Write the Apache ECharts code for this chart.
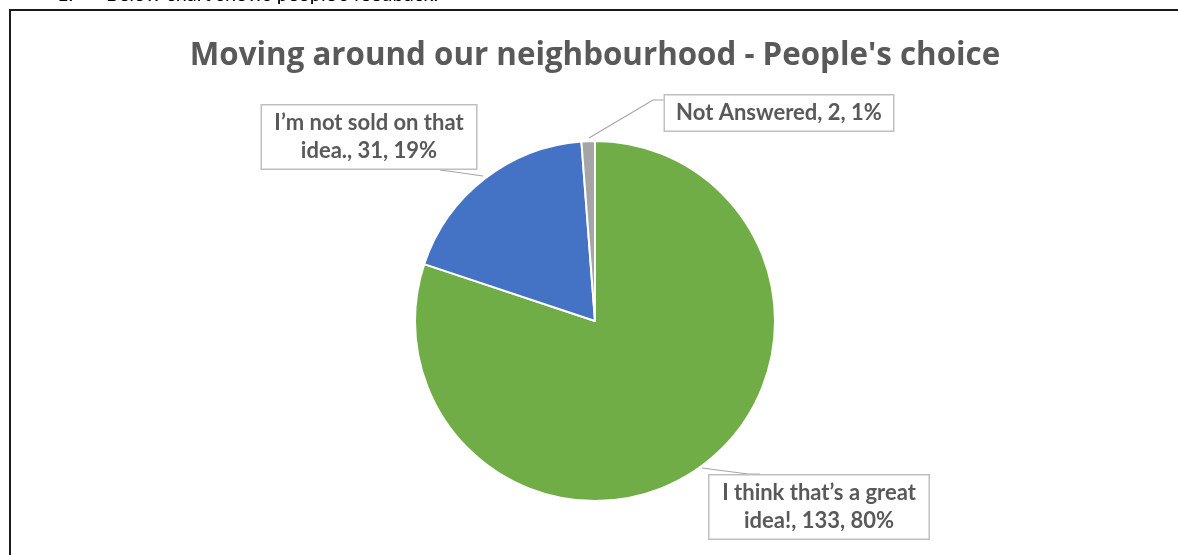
<!DOCTYPE html>
<html>
<head>
<meta charset="utf-8">
<script src="https://cdn.jsdelivr.net/npm/echarts@6/dist/echarts.min.js"></script>
<style>
  html, body { margin: 0; padding: 0; background: #ffffff; }
  #chart { width: 1178px; height: 555px; }
</style>
</head>
<body>
<div id="chart"></div>
<script>
// Survey answers, in clockwise order from 12 o'clock
const categories = [
  'I think that\u2019s a great idea!',
  'I\u2019m not sold on that idea.',
  'Not Answered'
];
const responses = [133, 31, 2];
const sliceColors = ['#70AD47', '#4472C4', '#A5A5A5'];

const chartTitle = 'Moving around our neighbourhood - People\u0027s choice';
const headingNumber = '1.';
const headingText = 'Below chart shows people\u2019s feedback.';

// Callout placement per slice: box centre, text width, leader line
const calloutCentres = [[819, 507], [369, 137], [779, 113]];
const calloutWidths = [203, 198, 212];
const calloutLines = [
  [[702, 468], [748, 474], [760, 474]],
  [[483, 176], [455, 172], [440, 170]],
  [[589, 138], [653, 100], [666, 100]]
];

const chart = echarts.init(document.getElementById('chart'), null, { renderer: 'canvas' });

const textGrey = '#595959';
const TITLE_FONT = '"Open Sans", Lato, sans-serif';
const LABEL_FONT = 'Lato, "Open Sans", sans-serif';
const LABEL_SIZE = 22;

// Word-wrap a label to a pixel width, measured with the label's own font
const measureCtx = document.createElement('canvas').getContext('2d');
function wrapWords(text, maxWidth) {
  measureCtx.font = `bold ${LABEL_SIZE}px ${LABEL_FONT}`;
  const words = text.split(' ');
  const lines = [];
  let line = '';
  for (const w of words) {
    const trial = line ? line + ' ' + w : w;
    if (line && measureCtx.measureText(trial).width > maxWidth) {
      lines.push(line);
      line = w;
    } else {
      line = trial;
    }
  }
  if (line) lines.push(line);
  return lines.join('\n');
}

chart.setOption({
  backgroundColor: '#ffffff',
  animation: false,
  title: {
    text: chartTitle,
    left: 590,
    top: 36,
    textAlign: 'center',
    textStyle: { fontFamily: TITLE_FONT, fontWeight: 'bold', fontSize: 31.3, color: textGrey }
  },
  graphic: [
    {
      type: 'rect',
      shape: { x: 10, y: 10, width: 1200, height: 600 },
      style: { fill: 'none', stroke: '#1a1a1a', lineWidth: 2 },
      silent: true
    },
    {
      type: 'text',
      left: 57, top: -15,
      style: { text: headingNumber, fontFamily: LABEL_FONT, fontSize: 20, fill: '#000000' }
    },
    {
      type: 'text',
      left: 106, top: -15,
      style: { text: headingText, fontFamily: LABEL_FONT, fontSize: 20, fill: '#000000' }
    }
  ],
  series: [{
    type: 'pie',
    center: [595, 321],
    radius: [0, 180],
    startAngle: 90,
    clockwise: true,
    percentPrecision: 0,
    avoidLabelOverlap: false,
    itemStyle: { borderColor: '#ffffff', borderWidth: 2 },
    label: {
      show: true,
      position: 'outside',
      formatter: p => wrapWords(`${p.name}, ${p.value}, ${p.percent}%`, calloutWidths[p.dataIndex]),
      fontFamily: LABEL_FONT,
      fontWeight: 'bold',
      fontSize: LABEL_SIZE,
      lineHeight: 28,
      color: textGrey,
      align: 'center',
      backgroundColor: '#ffffff',
      borderColor: '#BFBFBF',
      borderWidth: 1.5,
      padding: [4, 8, 3, 8]
    },
    labelLine: {
      show: true,
      lineStyle: { color: '#A6A6A6', width: 1.2 }
    },
    labelLayout: params => {
      const i = params.dataIndex;
      const c = calloutCentres[i];
      return {
        x: c[0], y: c[1], align: 'center', verticalAlign: 'middle',
        labelLinePoints: calloutLines[i]
      };
    },
    data: categories.map((name, i) => ({
      name,
      value: responses[i],
      itemStyle: { color: sliceColors[i] },
      label: { width: calloutWidths[i] }
    }))
  }]
});
</script>
</body>
</html>
